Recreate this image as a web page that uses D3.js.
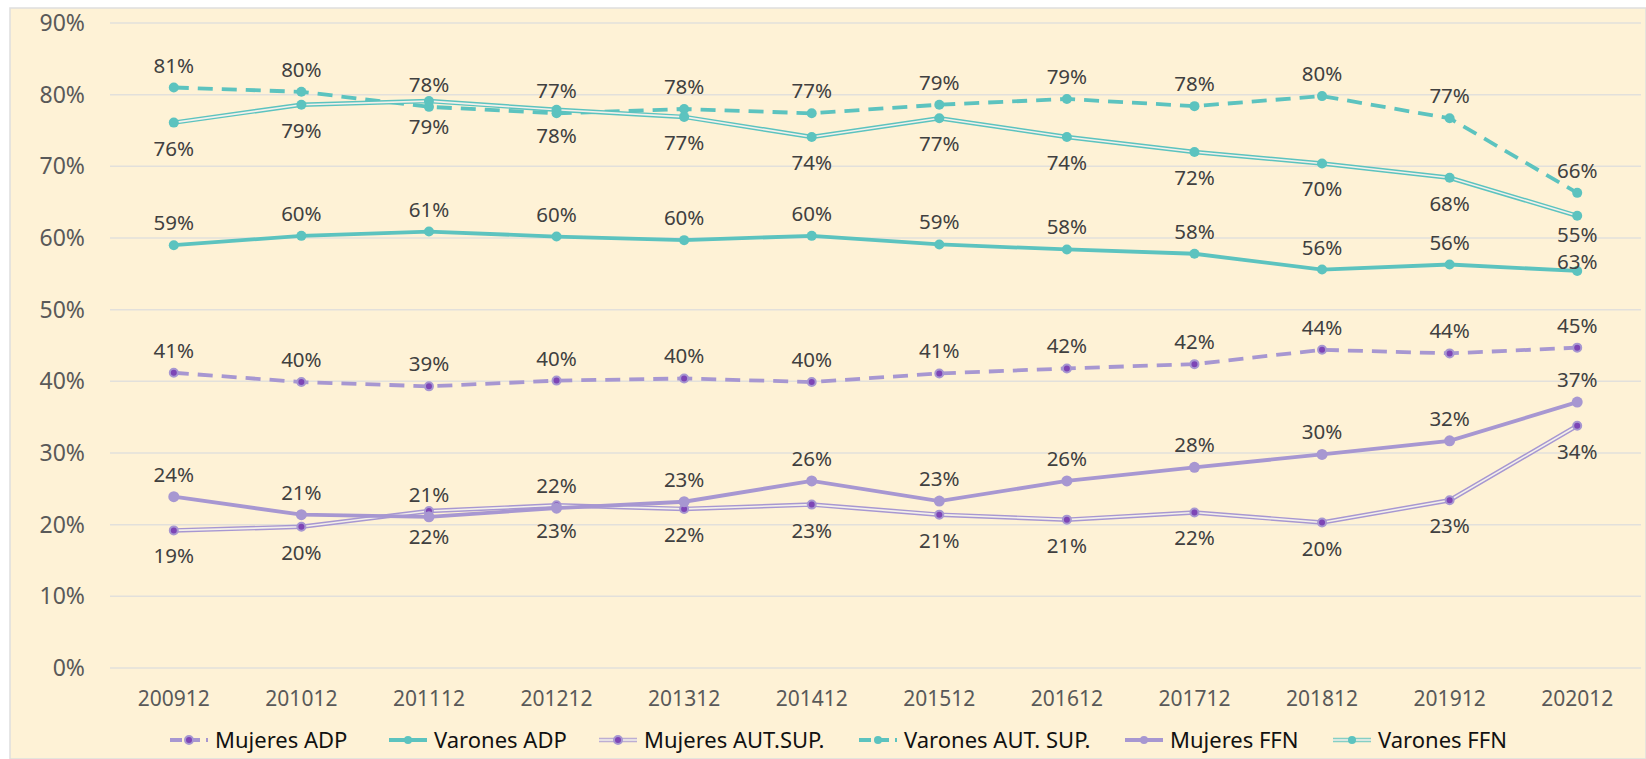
<!DOCTYPE html>
<html>
<head>
<meta charset="utf-8">
<script src="https://cdn.jsdelivr.net/npm/d3@7.9.0/dist/d3.min.js"></script>
<style>
  html, body { margin: 0; padding: 0; background: #fff; }
  svg { display: block; font-family: "Noto Sans", "Open Sans", sans-serif; }
</style>
</head>
<body>
<svg id="chart" width="1646" height="759"></svg>
<script>
// ----- Data (percent values) -----
const periods = ["200912", "201012", "201112", "201212", "201312", "201412",
                 "201512", "201612", "201712", "201812", "201912", "202012"];
const yTicks = [0, 10, 20, 30, 40, 50, 60, 70, 80, 90];

const mujeresADP    = [41.2, 39.9, 39.3, 40.1, 40.4, 39.9, 41.1, 41.8, 42.4, 44.4, 43.9, 44.7];
const varonesADP    = [59.0, 60.3, 60.9, 60.2, 59.7, 60.3, 59.1, 58.4, 57.8, 55.6, 56.3, 55.4];
const mujeresAutSup = [19.2, 19.7, 21.9, 22.7, 22.2, 22.8, 21.4, 20.7, 21.7, 20.3, 23.4, 33.8];
const varonesAutSup = [81.0, 80.4, 78.3, 77.4, 78.0, 77.4, 78.6, 79.4, 78.4, 79.8, 76.7, 66.3];
const mujeresFFN    = [23.9, 21.4, 21.1, 22.3, 23.2, 26.1, 23.3, 26.1, 28.0, 29.8, 31.7, 37.1];
const varonesFFN    = [76.1, 78.6, 79.1, 77.9, 76.9, 74.1, 76.7, 74.1, 72.0, 70.4, 68.4, 63.1];

const teal = "#5cc3bf", lilac = "#a797d1", plum = "#7d45b6";

// style: dashed / solid / double ; label above or below
const series = [
  { name: "Mujeres ADP",        values: mujeresADP,    color: lilac, kind: "dash",   dot: plum,  r: 4,   above: true },
  { name: "Varones ADP",        values: varonesADP,    color: teal,  kind: "solid",  dot: teal,  r: 5,   above: true },
  { name: "Mujeres AUT.SUP.",   values: mujeresAutSup, color: lilac, kind: "double", dot: plum,  r: 4,   above: false },
  { name: "Varones AUT. SUP.",  values: varonesAutSup, color: teal,  kind: "dash",   dot: teal,  r: 5,   above: true },
  { name: "Mujeres FFN",        values: mujeresFFN,    color: lilac, kind: "solid",  dot: lilac, r: 5.5, above: true },
  { name: "Varones FFN",        values: varonesFFN,    color: teal,  kind: "double", dot: teal,  r: 5,   above: false }
];

// labels that Excel moved apart where they would collide
const labelNudge = { "Varones ADP|202012": -14, "Varones FFN|202012": 20 };

// legend swatch starts, as laid out in the original
const legendPos = [170, 389, 599, 859, 1125, 1333];

// ----- Layout -----
const svg = d3.select("#chart");
const W = 1646, H = 759;
const plot = { left: 110, right: 1641, top: 23, bottom: 668 };
const FONT = "Noto Sans, Open Sans, sans-serif";

svg.append("rect").attr("x", 10).attr("y", 8).attr("width", W - 10).attr("height", H - 8)
  .attr("fill", "#fef2d6").attr("stroke", "#dedede").attr("stroke-width", 1.5);

const x = d3.scaleBand().domain(periods).range([plot.left, plot.right]);
const cx = d => x(d) + x.bandwidth() / 2;
const y = d3.scaleLinear().domain([0, 90]).range([plot.bottom, plot.top]);

// gridlines
svg.append("g").selectAll("line").data(yTicks).join("line")
  .attr("x1", plot.left).attr("x2", plot.right)
  .attr("y1", d => y(d)).attr("y2", d => y(d))
  .attr("stroke", "#e2e0db").attr("stroke-width", 1.5);

// y axis labels
const yAxis = svg.append("g")
  .attr("transform", `translate(${plot.left},0)`)
  .call(d3.axisLeft(y).tickValues(yTicks).tickFormat(d => d + "%").tickSize(0).tickPadding(25));
yAxis.select(".domain").remove();
yAxis.selectAll("text").attr("font-size", 23).attr("fill", "#595959")
  .attr("font-family", FONT);

// x axis labels
const xAxis = svg.append("g")
  .attr("transform", `translate(0,${plot.bottom})`)
  .call(d3.axisBottom(x).tickSize(0).tickPadding(23));
xAxis.select(".domain").remove();
xAxis.selectAll("text").attr("font-size", 21).attr("fill", "#595959")
  .attr("font-family", FONT);

const line = d3.line().x((d, i) => cx(periods[i])).y(d => y(d));

function drawStroke(g, s, pathD, isLegend) {
  if (s.kind === "double") {
    g.append("path").attr("d", pathD).attr("fill", "none")
      .attr("stroke", s.color).attr("stroke-width", 4.5).attr("opacity", isLegend ? 0.75 : 1);
    g.append("path").attr("d", pathD).attr("fill", "none")
      .attr("stroke", "#f4f0ea").attr("stroke-width", 1.6);
  } else {
    g.append("path").attr("d", pathD).attr("fill", "none")
      .attr("stroke", s.color)
      .attr("stroke-width", 3.8)
      .attr("stroke-dasharray", s.kind === "dash" ? (isLegend ? "12,6" : "15,9") : null);
  }
}

function drawDot(g, s, px, py, r) {
  g.append("circle").attr("cx", px).attr("cy", py).attr("r", r)
    .attr("fill", s.dot)
    .attr("stroke", s.dot === s.color ? "none" : s.color)
    .attr("stroke-width", 2);
}

// ----- Series -----
series.forEach(s => {
  const g = svg.append("g");
  drawStroke(g, s, line(s.values), false);
  s.values.forEach((v, i) => drawDot(g, s, cx(periods[i]), y(v), s.r));
});

// data labels on top
const labels = svg.append("g").attr("font-size", 20.5).attr("fill", "#404040")
  .attr("text-anchor", "middle").attr("font-family", FONT);
series.forEach(s => {
  s.values.forEach((v, i) => {
    const key = s.name + "|" + periods[i];
    const dy = (s.above ? -15 : 33) + (labelNudge[key] || 0);
    labels.append("text")
      .attr("x", cx(periods[i])).attr("y", y(v) + dy)
      .text(Math.round(v) + "%");
  });
});

// ----- Legend -----
const legend = svg.append("g").attr("transform", "translate(0,740)");
series.forEach((s, i) => {
  const g = legend.append("g").attr("transform", `translate(${legendPos[i]},0)`);
  drawStroke(g, s, "M0,0L38,0", true);
  drawDot(g, s, 19, 0, 4);
  g.append("text").attr("x", 45).attr("y", 7.5).attr("font-size", 22).attr("fill", "#111")
    .attr("font-family", FONT).text(s.name);
});
</script>
</body>
</html>
